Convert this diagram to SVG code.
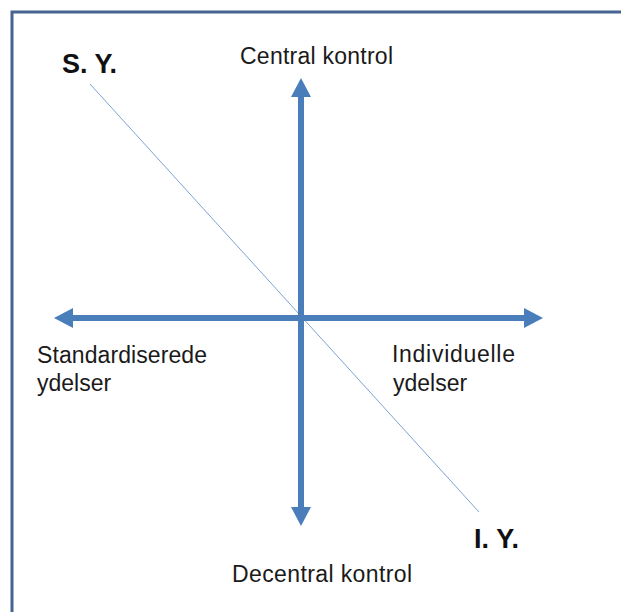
<svg xmlns="http://www.w3.org/2000/svg" width="621" height="612" viewBox="0 0 621 612">
  <style>
    .lbl { font-family: "Liberation Sans", Arial, sans-serif; font-size: 23px; fill: #1a1a1a; }
    .big { font-family: "Liberation Sans", Arial, sans-serif; font-size: 27px; font-weight: bold; fill: #111111; }
    .axis { stroke: #4a7ebb; stroke-width: 6; fill: none; marker-start: url(#head); marker-end: url(#head); }
    .diag { stroke: #7fa2d2; stroke-width: 1; fill: none; }
  </style>
  <defs>
    <marker id="head" viewBox="0 0 19 20" refX="1" refY="10" markerWidth="19" markerHeight="20" markerUnits="userSpaceOnUse" orient="auto-start-reverse">
      <path d="M0,0 L19,10 L0,20 z" fill="#4a7ebb"/>
    </marker>
  </defs>
  <rect x="0" y="0" width="621" height="612" fill="#ffffff"/>
  <rect id="frame" x="12" y="12" width="640" height="640" fill="none" stroke="#45648f" stroke-width="3"/>
  <g id="connectors">
    <line class="diag" x1="90" y1="84" x2="479" y2="512"/>
    <line class="axis" x1="301" y1="96" x2="301" y2="508"/>
    <line class="axis" x1="72" y1="318" x2="525" y2="318"/>
  </g>
  <g id="sy"><text class="big" x="62" y="73" textLength="55">S. Y.</text></g>
  <g id="iy"><text class="big" x="474" y="548" textLength="45">I. Y.</text></g>
  <g id="central"><text class="lbl" x="240" y="64" textLength="153">Central kontrol</text></g>
  <g id="decentral"><text class="lbl" x="232" y="582" textLength="180">Decentral kontrol</text></g>
  <g id="standard">
    <text class="lbl" x="37" y="363" textLength="170">Standardiserede</text>
    <text class="lbl" x="37" y="391">ydelser</text>
  </g>
  <g id="individuelle">
    <text class="lbl" x="392" y="362" textLength="123">Individuelle</text>
    <text class="lbl" x="393" y="391">ydelser</text>
  </g>
</svg>
